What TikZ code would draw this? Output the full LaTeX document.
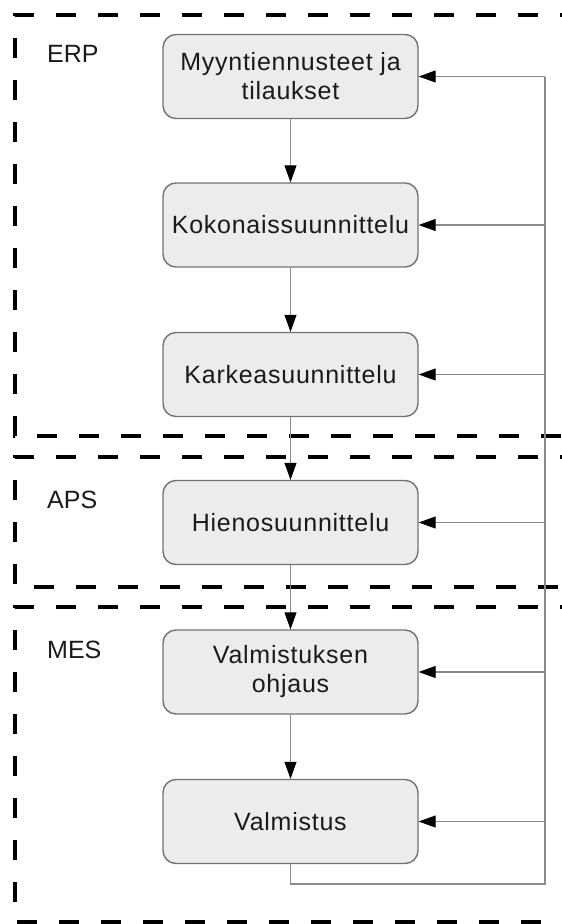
\documentclass[tikz,border=0pt]{standalone}
\usepackage{fontspec}
\setmainfont{Liberation Sans}
\usetikzlibrary{arrows.meta}
\definecolor{boxfill}{HTML}{ECECEC}
\definecolor{boxline}{HTML}{737373}
\definecolor{conline}{HTML}{8A8A8A}
\definecolor{ink}{HTML}{1A1A1A}
\tikzset{
  stagebox/.style={draw=boxline, line width=1.4pt, fill=boxfill, rounded corners=13pt,
    minimum width=255pt, minimum height=84pt, align=center, inner sep=2pt,
    font=\fontsize{25}{29}\selectfont\addfontfeature{LetterSpace=3}, text=ink},
  zone/.style={line width=3.5pt, dash pattern=on 20pt off 22pt, black},
  zonelabel/.style={anchor=west, inner sep=0pt, font=\fontsize{25}{29}\selectfont, text=ink},
  flow/.style={draw=conline, line width=1.1pt, -{Triangle[length=17pt,width=12pt,black]}},
  plain/.style={draw=conline, line width=1.1pt}
}
\begin{document}
\begin{tikzpicture}[x=1pt,y=-1pt]
\useasboundingbox (0,0) rectangle (562,924);
\fill[white] (0,0) rectangle (562,924);
% zones
\draw[zone] (580,15) -- (15,15) -- (15,436) -- (580,436);
\draw[zone] (580,457) -- (15,457) -- (15,587) -- (580,587);
\draw[zone] (580,607) -- (15,607) -- (15,922) -- (580,922);
\node[zonelabel] (erp) at (47,54) {ERP};
\node[zonelabel] (aps) at (47,499.5) {APS};
\node[zonelabel] (mes) at (47,649.5) {MES};
% boxes
\node[stagebox] (b1) at (290.5,76.5) {Myyntiennusteet ja\\tilaukset};
\node[stagebox] (b2) at (290.5,225) {Kokonaissuunnittelu};
\node[stagebox] (b3) at (290.5,374.5) {Karkeasuunnittelu};
\node[stagebox] (b4) at (290.5,522.5) {Hienosuunnittelu};
\node[stagebox] (b5) at (290.5,672) {Valmistuksen\\ohjaus};
\node[stagebox] (b6) at (290.5,821.5) {Valmistus};
% feedback coordinates
\coordinate (c0) at (290.5,884);
\coordinate (c1) at (545,884);
\coordinate (r1) at (545,76.5);
\coordinate (r2) at (545,225);
\coordinate (r3) at (545,374.5);
\coordinate (r4) at (545,522.5);
\coordinate (r5) at (545,672);
\coordinate (r6) at (545,821.5);
% vertical flow
\draw[flow] (b1) -- (b2);
\draw[flow] (b2) -- (b3);
\draw[flow] (b3) -- (b4);
\draw[flow] (b4) -- (b5);
\draw[flow] (b5) -- (b6);
% feedback loop
\draw[plain] (b6.south) -- (c0) -- (c1) -- (r1);
\draw[flow] (r1) -- (b1.east);
\draw[flow] (r2) -- (b2.east);
\draw[flow] (r3) -- (b3.east);
\draw[flow] (r4) -- (b4.east);
\draw[flow] (r5) -- (b5.east);
\draw[flow] (r6) -- (b6.east);
\end{tikzpicture}
\end{document}
